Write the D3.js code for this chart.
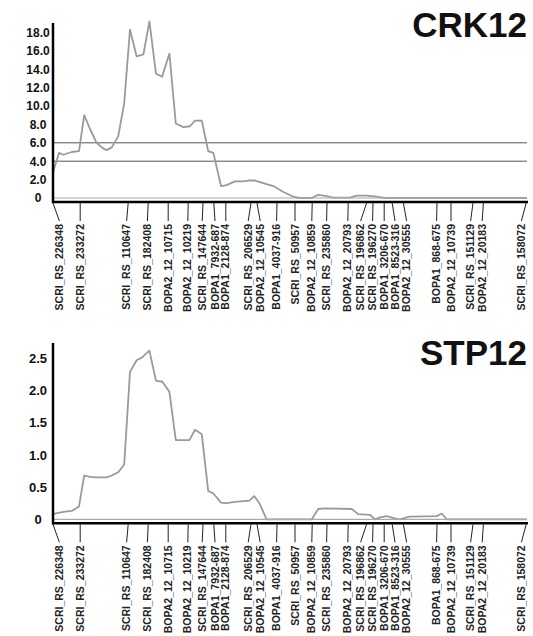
<!DOCTYPE html>
<html>
<head>
<meta charset="utf-8">
<script src="https://cdn.jsdelivr.net/npm/d3@7"></script>
<style>
  body { margin: 0; background: #fff; }
  svg { display: block; font-family: "Liberation Sans", Arial, sans-serif; }
</style>
</head>
<body>
<svg id="chart" width="533" height="636"></svg>
<script>
// markers along the linkage group (cM) and where their labels sit
const markers = ["SCRI_RS_226348", "SCRI_RS_233272", "SCRI_RS_110647", "SCRI_RS_182408",
    "BOPA2_12_10715", "BOPA2_12_10219", "SCRI_RS_147644", "BOPA1_7932-687", "BOPA1_2128-874",
    "SCRI_RS_206529", "BOPA2_12_10545", "BOPA1_4037-916", "SCRI_RS_50957", "BOPA2_12_10859",
    "SCRI_RS_235860", "BOPA2_12_20793", "SCRI_RS_196862", "SCRI_RS_196270", "BOPA1_3206-670",
    "BOPA1_8523-316", "BOPA2_12_30555", "BOPA1_868-675", "BOPA2_12_10739", "SCRI_RS_151129",
    "BOPA2_12_20183", "SCRI_RS_158072"];
const markerPos = [0, 6.8, 18.8, 23.8, 28.8, 33.8, 37.5, 40.2, 43.2, 49.5, 51.0, 56.0, 60.5,
    64.8, 68.5, 73.8, 78.4, 80.0, 82.8, 84.8, 87.6, 96.0, 99.5, 105.0, 107.6, 118.3];
const labelPos = [1.6, 6.8, 18.4, 23.6, 28.8, 33.7, 37.3, 40.5, 43.2, 48.8, 51.8, 55.9, 60.5,
    64.7, 68.4, 73.7, 76.9, 79.9, 82.8, 85.5, 88.4, 95.9, 99.5, 104.4, 107.3, 117.1];

// CRK12 LOD profile
const crkPos = [0, 1.5, 2.6, 4.7, 6.5, 7.8, 9.25, 10.9, 12.2, 13.4, 14.7, 16.3, 17.8, 19.25,
    20.9, 22.6, 24.1, 25.75, 27.3, 29.1, 30.7, 32.6, 34.25, 35.5, 37.2, 38.8, 40.1, 42, 43.4,
    45.5, 47.6, 48.8, 50.5, 53.4, 55.1, 57.6, 60.1, 61.5, 64.7, 66.3, 68.4, 70, 74.25, 75.9,
    78.4, 80.9, 83, 118.5];
const crkLod = [2.8, 4.9, 4.7, 5.0, 5.1, 9.0, 7.5, 6.0, 5.5, 5.2, 5.5, 6.7, 10.3, 18.3,
    15.4, 15.6, 19.2, 13.5, 13.2, 15.7, 8.1, 7.7, 7.8, 8.4, 8.4, 5.1, 4.9, 1.3, 1.4,
    1.8, 1.8, 1.9, 1.9, 1.5, 1.3, 0.65, 0.14, 0, 0, 0.35, 0.2, 0.05, 0.05, 0.25,
    0.25, 0.15, 0, 0];
const crkTicks = [0, 2, 4, 6, 8, 10, 12, 14, 16, 18];
const crkThresholds = [4, 6];

// STP12 LOD profile
const stpPos = [0, 1.3, 3, 4.7, 6.5, 7.8, 9.25, 10.9, 13.4, 14.7, 16.3, 17.8, 19.25, 20.9,
    22.2, 24.1, 25.75, 27.3, 29.1, 30.7, 34.1, 35.5, 37.2, 38.8, 40.1, 42, 43.4, 45.5, 49.1,
    50.3, 51.6, 53.4, 64.7, 66.3, 68, 74.7, 76.3, 79.25, 80.5, 81.75, 83.4, 85.5, 86.75,
    88.4, 89.25, 95.9, 97.2, 98.4, 118.5];
const stpLod = [0.08, 0.1, 0.12, 0.13, 0.2, 0.68, 0.66, 0.65, 0.65, 0.68, 0.73, 0.85, 2.29, 2.47,
    2.51, 2.62, 2.15, 2.14, 1.98, 1.23, 1.23, 1.39, 1.32, 0.44, 0.40, 0.26, 0.25, 0.27, 0.29,
    0.36, 0.25, 0, 0, 0.16, 0.17, 0.16, 0.08, 0.07, 0, 0.03, 0.05, 0.015, 0,
    0.03, 0.04, 0.05, 0.09, 0, 0];
const stpTicks = [0, 0.5, 1.0, 1.5, 2.0, 2.5];

const svg = d3.select("#chart");
svg.append("rect").attr("width", 533).attr("height", 636).attr("fill", "#fff");

const x = d3.scaleLinear().domain([0, 118.5]).range([53, 527]);

function drawPanel(opts) {
    const g = svg.append("g");
    const y = d3.scaleLinear().domain(opts.domain).range([opts.y0, opts.y1]);
    const base = opts.y0;

    // threshold lines
    g.selectAll(".thr")
        .data(opts.thresholds || [])
        .enter().append("line")
        .attr("x1", x(0)).attr("x2", x(118.5))
        .attr("y1", d => y(d)).attr("y2", d => y(d))
        .attr("stroke", "#555").attr("stroke-width", 1);

    // LOD curve
    const pts = opts.pos.map((p, i) => [p, opts.lod[i]]);
    g.append("path")
        .datum(pts)
        .attr("fill", "none")
        .attr("stroke", "#9a9a9a")
        .attr("stroke-width", 1.8)
        .attr("stroke-linejoin", "round")
        .attr("d", d3.line().x(d => x(d[0])).y(d => y(d[1])));

    // chromosome bar
    g.append("line")
        .attr("x1", x(0)).attr("x2", x(118.5))
        .attr("y1", base).attr("y2", base)
        .attr("stroke", "#aaa").attr("stroke-width", 1.2);
    g.append("line")
        .attr("x1", x(0) - 1).attr("x2", x(118.5) + 1)
        .attr("y1", base + 4).attr("y2", base + 4)
        .attr("stroke", "#000").attr("stroke-width", 2.5);

    // y axis
    g.append("line")
        .attr("x1", x(0)).attr("x2", x(0))
        .attr("y1", opts.axisTop).attr("y2", base + 5)
        .attr("stroke", "#000").attr("stroke-width", 2.5);

    const yAxis = g.append("g")
        .attr("transform", `translate(${x(0)},0)`)
        .call(d3.axisLeft(y).tickValues(opts.ticks).tickSize(0)
            .tickFormat(d => d === 0 ? "0" : d3.format(".1f")(d)));
    yAxis.select(".domain").remove();
    yAxis.selectAll("text")
        .attr("x", -15)
        .attr("text-anchor", "middle")
        .attr("font-family", "Liberation Sans, Arial, sans-serif")
        .attr("font-weight", "bold")
        .attr("font-size", opts.tickFont)
        .attr("fill", "#111");

    // marker ticks and labels
    const tickTop = base + 5, tickBot = base + 23;
    g.selectAll(".mk")
        .data(markers)
        .enter().append("line")
        .attr("x1", (d, i) => x(markerPos[i]))
        .attr("y1", tickTop)
        .attr("x2", (d, i) => x(labelPos[i]))
        .attr("y2", tickBot)
        .attr("stroke", "#222").attr("stroke-width", 1);

    g.selectAll(".lbl")
        .data(markers)
        .enter().append("text")
        .attr("transform", (d, i) => `translate(${x(labelPos[i]) + 3.5},${tickBot + 3}) rotate(-90)`)
        .attr("text-anchor", "end")
        .attr("font-size", 10.5)
        .attr("font-weight", "bold")
        .attr("fill", "#222")
        .text(d => d);

    // title
    svg.append("text")
        .attr("x", 527).attr("y", opts.titleY)
        .attr("text-anchor", "end")
        .attr("font-family", "Liberation Sans, Arial, sans-serif")
        .attr("font-weight", "bold")
        .attr("font-size", 35)
        .attr("fill", "#111")
        .text(opts.title);
}

drawPanel({
    title: "CRK12", titleY: 37,
    domain: [0, 18], y0: 198, y1: 32.4, axisTop: 23,
    pos: crkPos, lod: crkLod, ticks: crkTicks, thresholds: crkThresholds, tickFont: 12
});

drawPanel({
    title: "STP12", titleY: 365,
    domain: [0, 2.5], y0: 519.3, y1: 358.3, axisTop: 343,
    pos: stpPos, lod: stpLod, ticks: stpTicks, thresholds: [], tickFont: 13
});
</script>
</body>
</html>
